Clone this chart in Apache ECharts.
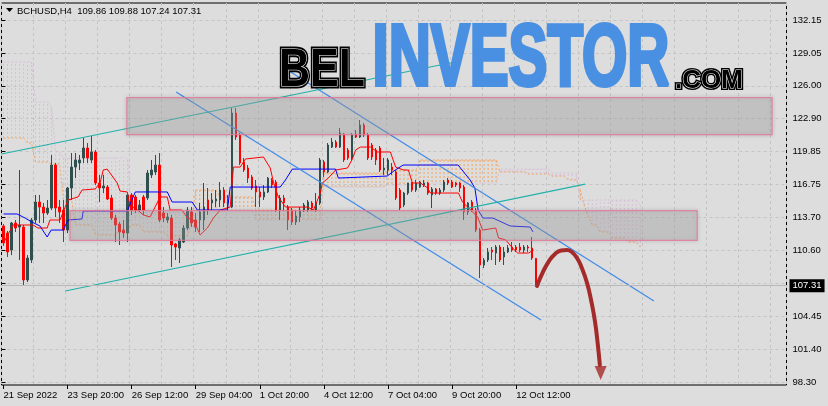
<!DOCTYPE html>
<html><head><meta charset="utf-8">
<script src="https://cdn.jsdelivr.net/npm/echarts@6/dist/echarts.min.js"></script>
<style>html,body{margin:0;padding:0;background:#dddddd}#c{width:828px;height:406px}</style>
</head><body><div id="c"></div>
<script>
// ---------- DATA ----------
const symbolName = 'BCHUSD,H4';
// [open, close, low, high] per 4h bar
const candles = [
[112.89,111.30,111.02,113.07],[112.23,110.46,109.99,112.42],[110.64,113.17,110.17,113.26],[113.17,112.70,112.33,113.45],
[112.79,112.98,109.71,118.12],[112.79,107.84,107.37,112.98],[107.84,109.89,107.65,110.17],[109.71,113.45,109.43,113.63],
[113.45,115.13,113.17,115.79],[115.13,114.66,113.17,115.79],[114.66,114.10,113.17,115.04],[114.10,114.57,113.92,115.32],
[114.57,118.59,114.38,119.53],[118.59,114.57,113.73,118.78],[114.66,114.20,113.17,115.32],[114.38,112.51,111.39,115.32],
[112.51,116.44,112.23,116.53],[116.44,118.40,115.32,119.71],[118.40,119.06,117.37,119.71],[118.78,119.06,118.12,119.53],
[119.25,120.18,118.78,121.12],[120.18,119.25,118.78,120.65],[119.06,119.81,118.78,121.30],[119.81,116.91,116.72,119.99],
[116.91,116.44,115.13,117.66],[116.44,116.63,115.97,117.66],[116.53,115.41,115.32,116.72],[115.51,113.63,113.45,115.79],
[113.63,112.98,111.39,113.92],[113.07,112.33,111.11,113.26],[112.51,112.23,111.77,113.45],[112.23,115.79,111.39,115.79],
[115.79,114.38,113.92,115.97],[115.60,114.38,114.10,115.79],[114.38,114.85,114.20,115.32],[115.60,114.38,113.92,115.79],
[115.51,117.84,115.32,118.12],[117.66,118.12,117.37,119.06],[117.94,118.59,117.66,119.53],[118.59,113.45,113.26,119.71],
[114.10,113.63,113.26,114.66],[113.45,113.73,113.17,114.10],[113.63,111.11,109.05,113.92],[111.20,110.92,109.71,111.30],
[110.83,111.58,109.43,111.77],[111.39,112.70,111.30,112.98],[112.70,114.38,112.51,114.66],[114.20,113.17,112.79,114.66],
[113.45,112.79,112.33,114.10],[113.45,114.20,112.33,115.04],[113.45,114.66,112.51,116.91],[115.32,114.38,113.92,116.44],
[115.04,115.32,114.38,115.97],[115.22,115.41,114.66,116.25],[115.32,116.25,114.66,117.00],[116.25,115.04,114.66,116.53],
[115.04,115.32,114.66,115.79],[114.66,123.45,114.57,123.92],[123.45,121.21,120.93,123.92],[121.40,118.78,118.59,121.58],
[118.87,118.12,117.94,119.25],[118.31,117.37,116.91,118.59],[117.47,116.44,116.25,117.66],[116.63,116.07,114.66,117.19],
[116.07,115.60,114.66,116.53],[115.60,116.07,115.32,116.72],[116.07,117.37,115.97,117.47],[117.19,116.72,116.44,117.37],
[117.00,114.38,114.20,117.19],[114.38,115.51,113.45,115.79],[115.51,115.04,114.38,115.79],[114.66,113.45,112.51,114.85],
[114.38,113.26,112.98,114.57],[113.26,113.82,112.98,114.38],[113.73,114.38,113.26,114.66],[114.38,114.85,114.20,115.04],
[114.38,115.13,114.20,115.32],[115.04,114.57,114.38,115.22],[114.38,115.04,114.20,115.97],[115.04,119.06,114.85,119.25],
[118.87,117.94,117.47,119.06],[117.94,120.46,117.84,120.65],[120.27,120.74,120.18,121.12],[120.74,120.27,120.18,120.93],
[120.27,121.58,120.18,122.05],[121.49,119.06,118.87,121.58],[119.99,119.25,119.06,120.18],[119.25,121.40,119.06,121.58],
[121.49,121.21,121.12,121.86],[121.21,122.33,121.12,122.80],[122.33,121.40,121.21,122.52],[121.40,119.25,119.06,121.58],
[120.46,119.34,119.06,120.65],[119.99,119.06,118.59,120.18],[120.18,118.12,117.94,120.37],[118.12,118.31,117.66,119.25],
[118.12,119.06,117.66,119.25],[118.40,118.12,117.66,118.78],[117.94,115.51,115.32,118.12],[116.25,114.57,114.38,116.44],
[114.85,115.97,114.66,116.07],[115.97,116.91,115.79,116.91],[116.91,116.25,116.07,117.00],[116.25,116.91,116.07,117.19],
[116.53,117.00,116.44,117.09],[116.72,116.91,116.53,117.19],[116.91,115.97,115.79,117.00],[115.79,116.35,114.57,116.53],
[116.35,115.97,115.79,116.44],[115.97,116.25,115.79,116.44],[116.25,117.00,116.07,117.19],[117.19,116.91,116.72,117.37],
[117.00,116.53,116.44,117.19],[116.91,116.72,116.53,117.00],[116.91,116.44,116.07,117.00],[116.53,114.20,113.45,116.72],
[114.20,115.04,113.92,115.13],[115.13,114.38,114.20,115.32],[114.38,112.51,112.33,114.57],[112.51,109.24,108.02,112.70],
[109.24,109.71,108.96,109.89],[109.71,110.46,109.52,110.83],[110.64,110.46,109.71,110.92],[110.36,110.92,109.24,111.11],
[110.92,109.71,109.52,111.11],[109.99,110.46,109.24,110.92],[110.46,110.83,110.36,111.11],[110.92,110.64,110.46,111.39],
[110.92,110.64,110.46,111.11],[110.92,110.64,110.46,111.30],[110.64,110.92,110.36,111.11],[110.92,110.83,110.46,111.11],
[110.83,109.89,109.71,111.86],[109.86,107.31,107.24,109.88]
];
// Ichimoku Senkou span A / B, one value per bar slot (cloud runs 26 bars ahead)
const spanA = [
121.12,121.12,121.12,121.12,121.12,121.12,120.65,120.65,118.87,118.87,118.87,118.87,118.68,118.68,118.68,
115.32,115.32,115.32,112.98,112.98,112.98,112.98,112.98,112.05,112.05,112.05,112.05,112.05,112.05,
112.51,112.51,112.51,112.98,112.98,112.98,112.33,112.33,112.33,112.33,112.33,112.33,
111.95,111.95,111.95,111.95,111.95,111.95,113.45,116.25,116.25,116.25,116.25,116.25,116.25,
115.60,115.60,115.60,115.60,115.60,115.60,115.60,115.60,115.60,
114.38,114.38,114.38,114.38,114.38,114.38,114.38,114.38,114.38,114.38,114.38,114.38,114.38,114.38,114.38,114.38,114.38,
117.84,117.84,117.84,117.84,117.84,117.84,117.84,117.84,117.84,117.84,117.84,117.84,117.84,117.84,117.84,117.84,
118.12,118.12,118.12,118.12,118.12,118.12,118.12,118.12,
119.06,119.06,119.06,119.06,119.06,119.06,119.06,119.06,119.06,119.06,119.06,119.06,119.06,119.06,119.06,119.06,119.06,119.06,119.06,119.06,
117.94,117.94,117.94,117.94,117.94,117.94,117.94,117.75,117.75,117.75,117.75,117.75,117.75,
117.56,117.56,117.56,117.56,117.19,117.19,117.19,116.25,114.85,113.73,112.98,112.98,
112.33,112.33,112.33,111.77,111.77,111.77,111.77,111.39,111.39,111.39,110.92
];
const spanB = [
128.22,128.22,128.22,128.22,128.22,128.22,128.22,128.22,124.48,124.48,124.48,124.48,124.01,119.81,119.81,
119.25,119.25,119.25,119.25,119.25,119.25,119.25,119.25,119.25,119.25,119.25,119.25,119.25,119.25,119.25,119.25,119.25,
114.10,114.10,114.10,114.10,114.10,114.10,114.10,114.10,114.10,114.10,114.10,114.10,114.10,114.10,114.10,
114.38,114.38,114.38,114.38,114.38,114.38,114.38,114.38,114.38,114.38,114.38,114.38,114.38,114.38,114.38,114.38,
113.45,113.45,113.45,113.45,113.45,113.45,113.45,113.45,113.45,113.45,113.45,113.45,113.45,113.45,113.45,113.45,113.45,
116.53,116.53,116.53,116.53,116.53,116.53,116.53,116.53,116.53,116.53,116.53,116.53,116.53,116.53,116.53,116.53,
116.72,116.72,116.72,116.72,116.72,116.72,116.72,116.72,
116.91,116.91,116.91,116.91,116.91,116.91,116.91,116.91,116.91,116.91,116.91,116.91,116.91,116.91,116.91,116.91,116.91,116.91,116.91,116.91,
118.21,118.21,118.21,118.21,118.21,118.21,118.21,118.21,118.21,118.21,118.21,118.21,118.21,
117.84,117.84,117.84,117.84,117.84,117.84,117.84,
115.32,115.32,115.32,115.32,115.32,115.32,115.32,115.32,115.32,115.32,115.32,115.32,115.32,115.32,115.32,114.85
];
// Tenkan-sen / Kijun-sen corner points [bar slot, price]
const tenkan = [[0,111.30],[2.4,112.98],[7.4,112.98],[8.6,112.70],[10.9,112.70],[11.6,113.45],[14.1,113.45],[14.9,114.20],[16.1,115.32],[18.6,115.60],[19.6,116.25],[22.9,116.35],[24.1,116.91],[24.9,118.12],[25.9,118.21],[26.6,117.84],[28.4,116.91],[29.1,116.16],[30.9,116.07],[31.6,114.76],[32.9,114.57],[34.9,113.92],[36.6,113.73],[39.1,115.60],[40.9,115.60],[41.6,114.38],[44.6,114.38],[45.9,113.63],[47.4,113.45],[49.1,112.05],[50.9,112.70],[52.4,113.63],[54.1,114.38],[56.6,114.66],[57.4,118.40],[59.1,118.40],[60.4,119.15],[64.9,119.34],[66.6,118.31],[67.4,117.00],[68.6,115.60],[70.4,114.66],[75.9,114.66],[77.4,114.38],[79.1,115.97],[79.6,116.91],[81.1,117.37],[82.9,118.12],[85.9,118.31],[87.1,119.15],[87.9,119.99],[89.1,120.27],[91.6,120.27],[93.4,119.81],[96.6,119.81],[97.9,118.40],[99.9,118.12],[101.1,118.12],[102.1,116.91],[104.1,116.91],[105.9,116.44],[106.6,115.97],[113.6,115.97],[114.6,115.13],[115.9,114.66],[118.4,113.73],[119.6,112.51],[122.9,112.70],[123.6,111.77],[125.4,111.58],[127.1,110.83],[128.4,110.36],[131.1,110.36],[132.4,110.64]];
const kijun = [[0,114.01],[3.4,114.01],[5.4,113.63],[7.1,113.26],[9.1,112.89],[10.9,111.86],[11.9,112.51],[14.9,112.51],[16.1,113.45],[19.6,113.54],[19.9,114.29],[30.9,114.29],[32.9,116.07],[40.9,116.07],[42.1,115.13],[47.1,115.13],[48.4,114.38],[55.9,114.38],[56.6,116.53],[69.1,116.53],[70.4,117.19],[72.1,118.21],[82.9,118.21],[83.6,117.37],[95.8,117.56],[97.8,118.12],[99.8,118.59],[113.5,118.59],[116.5,117.19],[117.7,116.44],[118.5,114.38],[119.7,113.63],[122.2,113.63],[126.5,112.89],[131.5,112.79],[132.2,112.33]];
// trend channels [bar slot, price]
const channelBlueLower = [[43.1,125.42],[134.2,104.10]];
const channelBlueUpper = [[71.3,127.38],[162.4,105.87]];
const channelTealUpper = [[-0.5,119.62],[112.7,128.22]];
const channelTealLower = [[15.4,106.81],[145.2,116.81]];
// zones [fromSlot, toSlot, topPrice, bottomPrice]
const zones = [[30.8,191.9,124.90,121.44],[16.6,173.2,114.33,111.55]];
// forecast arrow path [bar slot, price]
const forecast = [[133.2,107.28],[134.7,108.59],[136.2,109.61],[137.7,110.27],[139.2,110.60],[140.7,110.64],[141.9,110.46],[143.2,109.89],[144.4,108.96],[145.7,107.56],[146.7,105.97],[147.7,103.91],[148.4,101.76],[148.9,99.89]];
const forecastTip = [[149.1,99.14]];
const slotCount = 196;
const xTickSlots = [0,16,32,48,64,80,96,112,128];
const xTickLabels = ['21 Sep 2022','23 Sep 20:00','26 Sep 12:00','29 Sep 04:00','1 Oct 20:00','4 Oct 12:00','7 Oct 04:00','9 Oct 20:00','12 Oct 12:00'];
const yTickLabels = ['98.30','101.40','104.45','107.55','110.60','113.70','116.75','119.85','122.90','126.00','129.05','132.15'];
const yMin = 98.02, yMax = 133.74;

// ---------- CHART ----------
const categories = Array.from({length: slotCount}, (_, i) => String(i));
const last = candles[candles.length - 1];
const lastPrice = last[1];
const FONT = 'Liberation Sans';
const isTick = (idx) => xTickSlots.indexOf(idx) >= 0;
const gridLine = {color: '#c4c4c4', type: [3, 3], width: 1};

const chart = echarts.init(document.getElementById('c'), null, {renderer: 'canvas'});
const option = {
  backgroundColor: '#dddddd',
  animation: false,
  grid: [
    {left: 1.5, right: 41.5, top: 3, bottom: 21, show: true, borderColor: '#000', borderWidth: 1, backgroundColor: 'transparent'},
    {left: 1.5, right: 41.5, top: 20, bottom: 24, show: false}
  ],
  xAxis: [
    {type: 'category', gridIndex: 0, data: categories, boundaryGap: true,
     axisLine: {show: false},
     axisTick: {show: true, alignWithLabel: true, interval: (i) => isTick(i), length: 4, lineStyle: {color: '#000'}},
     axisLabel: {interval: (i) => isTick(i), formatter: (v, i) => xTickLabels[xTickSlots.indexOf(Number(v))] || '',
                 align: 'left', color: '#000', fontSize: 9.5, fontFamily: FONT, margin: 5},
     splitLine: {show: false}},
    {type: 'value', gridIndex: 0, position: 'top', min: -0.5, max: slotCount - 0.5, interval: 8,
     axisLine: {show: false}, axisTick: {show: false}, axisLabel: {show: false},
     splitLine: {show: true, lineStyle: gridLine}},
    {type: 'value', gridIndex: 1, show: false}
  ],
  yAxis: [
    {type: 'value', gridIndex: 0, min: yMin, max: yMax, axisLine: {show: false}, axisTick: {show: false},
     axisLabel: {show: false}, splitLine: {show: false}},
    {type: 'category', gridIndex: 1, data: yTickLabels, boundaryGap: false, position: 'right',
     axisLine: {show: false},
     axisTick: {show: true, length: 4, lineStyle: {color: '#000'}},
     axisLabel: {color: '#000', fontSize: 9.5, fontFamily: FONT, margin: 6},
     splitLine: {show: true, lineStyle: gridLine}}
  ],
  series: [
    {type: 'custom', name: 'cloud', xAxisIndex: 1, yAxisIndex: 0, z: 1, silent: true,
     data: spanA.map((a, i) => [i, a, spanB[i]]),
     encode: {x: 0, y: [1, 2]},
     renderItem: (params, api) => {
       const i = api.value(0), a = api.value(1), b = api.value(2);
       const p1 = api.coord([i, a]), p2 = api.coord([i, b]);
       return {type: 'line', shape: {x1: p1[0], y1: p1[1], x2: p2[0], y2: p2[1]},
               style: {stroke: a >= b ? '#f4a460' : '#d8bfd8', lineWidth: 1, lineDash: [2, 2]}};
     }},
    {type: 'line', name: 'spanA', xAxisIndex: 1, yAxisIndex: 0, z: 1, silent: true, symbol: 'none',
     data: spanA.map((v, i) => [i, v]), lineStyle: {color: '#f4a460', width: 1, type: [2, 2]}},
    {type: 'line', name: 'spanB', xAxisIndex: 1, yAxisIndex: 0, z: 1, silent: true, symbol: 'none',
     data: spanB.map((v, i) => [i, v]), lineStyle: {color: '#d8bfd8', width: 1, type: [2, 2]}},
    {type: 'candlestick', name: symbolName, xAxisIndex: 0, yAxisIndex: 0, z: 2, barWidth: 2,
     data: candles,
     itemStyle: {color: '#2f4f4f', color0: '#ff0000', borderColor: '#2f4f4f', borderColor0: '#ff0000', borderWidth: 1},
     markLine: {silent: true, symbol: ['none', 'none'], animation: false,
       lineStyle: {color: '#b8b8b8', width: 1, type: 'solid'},
       label: {show: true, position: 'end', formatter: () => lastPrice.toFixed(2), color: '#fff', backgroundColor: '#000',
               padding: [2, 3, 1, 3], fontSize: 9.5, fontFamily: FONT, distance: 3},
       data: [{yAxis: lastPrice}]}},
    {type: 'line', name: 'tenkan', xAxisIndex: 1, yAxisIndex: 0, z: 3, silent: true, symbol: 'none',
     data: tenkan, lineStyle: {color: '#ff0000', width: 1}},
    {type: 'line', name: 'kijun', xAxisIndex: 1, yAxisIndex: 0, z: 3, silent: true, symbol: 'none',
     data: kijun, lineStyle: {color: '#0000ff', width: 1}},
    ...[channelBlueLower, channelBlueUpper].map(d => ({type: 'line', xAxisIndex: 1, yAxisIndex: 0, z: 4, silent: true,
      symbol: 'none', data: d, lineStyle: {color: '#3f8ae8', width: 1.2}})),
    ...[channelTealUpper, channelTealLower].map(d => ({type: 'line', xAxisIndex: 1, yAxisIndex: 0, z: 4, silent: true,
      symbol: 'none', data: d, lineStyle: {color: '#20b2aa', width: 1.2}})),
    {type: 'custom', name: 'zones', xAxisIndex: 1, yAxisIndex: 0, z: 5, silent: true,
     data: zones, encode: {x: [0, 1], y: [2, 3]},
     renderItem: (params, api) => {
       const p1 = api.coord([api.value(0), api.value(2)]);
       const p2 = api.coord([api.value(1), api.value(3)]);
       return {type: 'rect', shape: {x: p1[0], y: p1[1], width: p2[0] - p1[0], height: p2[1] - p1[1]},
               style: {fill: 'rgba(176,176,176,0.33)', stroke: 'rgba(226,120,150,0.85)', lineWidth: 1.2,
                       shadowBlur: 4, shadowColor: 'rgba(0,0,0,0.25)'}};
     }},
    {type: 'line', name: 'forecast', xAxisIndex: 1, yAxisIndex: 0, z: 6, silent: true, symbol: 'none', smooth: 0.5,
     data: forecast, lineStyle: {color: '#a52a2a', width: 4, cap: 'round'}},
    {type: 'scatter', name: 'forecastTip', xAxisIndex: 1, yAxisIndex: 0, z: 6, silent: true,
     data: forecastTip, symbol: 'triangle', symbolSize: [12, 14], symbolRotate: 180, itemStyle: {color: '#a52a2a'}}
  ],
  graphic: [
    {type: 'polygon', z: 50, shape: {points: [[6, 8], [13, 8], [9.5, 12]]}, style: {fill: '#000'}},
    {type: 'text', z: 50, x: 17, y: 11, style: {text: symbolName + '  ' + [last[0], last[3], last[2], last[1]].map(v => v.toFixed(2)).join(' '),
      fontSize: 9.5, fontFamily: FONT, fill: '#000', align: 'left', verticalAlign: 'middle'}},
    // logo
    {type: 'text', z: 100, x: 322, y: 71.5, scaleX: 0.81, style: {text: 'BEL', fontSize: 53, fontWeight: 'bold', fontFamily: FONT,
      fill: '#000', stroke: '#000', lineWidth: 5, align: 'center', verticalAlign: 'middle',
      shadowColor: 'rgba(0,0,0,0.35)', shadowBlur: 3, shadowOffsetX: 2, shadowOffsetY: 2}},
    {type: 'text', z: 101, x: 322, y: 71.5, scaleX: 0.81, style: {text: 'BEL', fontSize: 53, fontWeight: 'bold', fontFamily: FONT,
      fill: '#000', stroke: '#fff', lineWidth: 1.2, align: 'center', verticalAlign: 'middle'}},
    {type: 'text', z: 100, x: 521, y: 61, scaleX: 0.67, style: {text: 'INVESTOR', fontSize: 87, fontWeight: 'bold', fontFamily: FONT,
      fill: '#4a90e2', stroke: '#4a90e2', lineWidth: 4, align: 'center', verticalAlign: 'middle',
      shadowColor: 'rgba(0,0,0,0.3)', shadowBlur: 3, shadowOffsetX: 2, shadowOffsetY: 2}},
    {type: 'text', z: 100, x: 709, y: 80.7, scaleX: 1.0, style: {text: '.COM', fontSize: 26, fontWeight: 'bold', fontFamily: FONT,
      fill: '#000', stroke: '#000', lineWidth: 4, align: 'center', verticalAlign: 'middle',
      shadowColor: 'rgba(0,0,0,0.35)', shadowBlur: 3, shadowOffsetX: 1.5, shadowOffsetY: 1.5}},
    {type: 'text', z: 101, x: 709, y: 80.7, scaleX: 1.0, style: {text: '.COM', fontSize: 26, fontWeight: 'bold', fontFamily: FONT,
      fill: '#000', stroke: '#fff', lineWidth: 1, align: 'center', verticalAlign: 'middle'}}
  ]
};
chart.setOption(option);
</script>
</body></html>
